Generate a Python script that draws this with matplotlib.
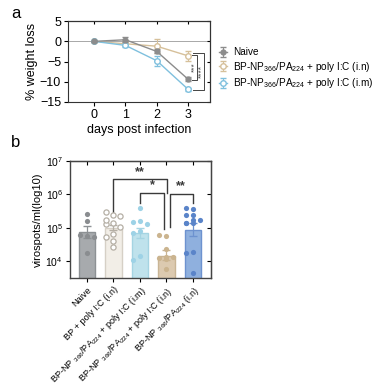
import numpy as np
import matplotlib.pyplot as plt

plt.rcParams['font.family'] = ['Liberation Sans', 'DejaVu Sans']
plt.rcParams['mathtext.fontset'] = 'custom'
plt.rcParams['mathtext.rm'] = 'Liberation Sans'
plt.rcParams['mathtext.it'] = 'Liberation Sans'

# ---- panel a: weight loss ----
days = [0, 1, 2, 3]
naive_wl = [0.0, 0.4, -2.5, -9.4]
naive_err = [0.2, 0.6, 0.5, 0.5]
in_wl = [0.0, -0.6, -1.2, -3.6]
in_err = [0.2, 0.4, 1.8, 1.2]
im_wl = [0.0, -1.0, -4.8, -11.9]
im_err = [0.2, 0.3, 1.2, 0.3]

# ---- panel b: virospots (log10 values) ----
groups = ['Naive', 'BP + poly I:C (i.n)',
          'BP-NP $_{366}$/PA$_{224}$ + poly I:C (i.m)',
          'BP-NP $_{366}$/PA$_{224}$ + poly I:C (i.n)',
          'BP-NP $_{366}$/PA$_{224}$ (i.n)']
naive_pts = [5.42, 5.22, 4.76, 4.80, 4.72, 4.26]
bp_pts = [5.38, 5.47, 5.36, 5.16, 5.12, 5.25, 5.03, 4.83, 4.73, 4.61, 4.42]
im_pts = [5.61, 5.20, 5.18, 5.12, 4.90, 4.86, 4.16, 4.05]
in_pts = [4.75, 4.78, 4.36, 4.12, 4.10, 4.12, 4.08, 3.77]
np_pts = [5.58, 5.61, 5.38, 5.38, 5.25, 5.25, 5.15, 5.15, 5.15, 4.29, 4.26, 3.65]
bar_mean = [4.87, 5.01, 4.86, 4.16, 4.95]
bar_hi = [5.05, 5.08, 4.99, 4.34, 5.14]
bar_lo = [4.70, 4.94, 4.70, 4.05, 4.75]

bar_face = ['#a7aaad', '#f2eee7', '#bfe2ec', '#dccab0', '#8fb0de']
bar_edge = ['#8d9194', '#d6d0c6', '#a5d4e2', '#c9b595', '#6d92cf']
pt_color = ['#8a8d90', '#b5afa5', '#9dd2e6', '#cbb48f', '#5a84c9']
pt_open = [False, True, False, False, False]


def swarm(vals, step=0.26):
    # small beeswarm, max 3 columns; pick the least crowded column
    placed = []
    offs = []
    for v in vals:
        best, best_cost = 0, None
        for k in [0, -1, 1]:
            dx = k * step
            cost = 0
            for (px, py) in placed:
                d2 = ((dx - px) * 26.5) ** 2 + ((v - py) * 33.7) ** 2
                if d2 < 4.5 ** 2:
                    cost += 1
            if best_cost is None or cost < best_cost:
                best, best_cost = dx, cost
            if cost == 0:
                break
        placed.append((best, v))
        offs.append(best)
    return offs


fig = plt.figure(figsize=(3.8, 3.92), dpi=100)

# ================= panel a =================
ax = fig.add_axes([0.179, 0.740, 0.374, 0.206])
ax.axhline(0, color='#9a9a9a', lw=0.6, zorder=0)
ax.errorbar(days, naive_wl, yerr=naive_err, color='#8c8c8c', marker='o', ms=3.5,
            lw=1, capsize=2, elinewidth=0.8, label='Naive', zorder=3)
ax.errorbar(days, in_wl, yerr=in_err, color='#d6c09a', marker='o', ms=4, mfc='white',
            mew=1, lw=1, capsize=2, elinewidth=0.8,
            label='BP-NP$_{366}$/PA$_{224}$ + poly I:C (i.n)', zorder=2)
ax.errorbar(days, im_wl, yerr=im_err, color='#7fc0de', marker='o', ms=4, mfc='white',
            mew=1, lw=1, capsize=2, elinewidth=0.8,
            label='BP-NP$_{366}$/PA$_{224}$ + poly I:C (i.m)', zorder=2)

# significance brackets at day 3
sig_c = '#444444'
ax.plot([3.12, 3.28, 3.28, 3.12], [-3.3, -3.3, -9.5, -9.5], color=sig_c, lw=0.7)
ax.text(3.2, -6.4, '***', rotation=90, ha='center', va='center', fontsize=6, color=sig_c)
ax.plot([3.15, 3.50, 3.50, 3.15], [-2.9, -2.9, -12.0, -12.0], color=sig_c, lw=0.7)
ax.text(3.42, -7.4, '****', rotation=90, ha='center', va='center', fontsize=6, color=sig_c)

ax.set_xlim(-0.83, 3.7)
ax.set_ylim(-15, 5)
ax.set_xticks(days)
ax.set_yticks([5, 0, -5, -10, -15])
ax.tick_params(direction='out', length=3, width=0.8, labelsize=9, pad=2)
for s in ax.spines.values():
    s.set_linewidth(0.8)
    s.set_color('#333333')
top = ax.secondary_xaxis('top')
top.set_xticks(days)
top.tick_params(direction='in', length=2.5, width=0.8, labeltop=False)
rgt = ax.secondary_yaxis('right')
rgt.set_yticks([5, 0, -5, -10, -15])
rgt.tick_params(direction='in', length=2.5, width=0.8, labelright=False)
ax.set_xlabel('days post infection', fontsize=9, labelpad=2)
ax.set_ylabel('% weight loss', fontsize=9, labelpad=1)
leg = ax.legend(loc='center left', bbox_to_anchor=(1.02, 0.41), frameon=False, fontsize=7.2,
                handlelength=0.8, handletextpad=0.6, labelspacing=0.25, borderpad=0.1)

# ================= panel b =================
bx = fig.add_axes([0.184, 0.291, 0.371, 0.298])
bx.set_yscale('log')
xs = np.arange(len(groups))
all_pts = [naive_pts, bp_pts, im_pts, in_pts, np_pts]
base = 10 ** 3.4
for i in range(len(groups)):
    m = 10 ** bar_mean[i]
    bx.bar(xs[i], m - base, bottom=base, width=0.63, color=bar_face[i],
           edgecolor=bar_edge[i], lw=1, zorder=1)
    bx.errorbar(xs[i], m, yerr=[[m - 10 ** bar_lo[i]], [10 ** bar_hi[i] - m]],
                color=bar_edge[i] if i != 1 else '#b5afa5', capsize=3, lw=0.9,
                zorder=2)
    offs = swarm(all_pts[i])
    px = xs[i] + np.array(offs)
    py = 10 ** np.array(all_pts[i])
    if pt_open[i]:
        bx.scatter(px, py, s=14, facecolor='white', edgecolor=pt_color[i], lw=0.9, zorder=3)
    else:
        bx.scatter(px, py, s=14, color=pt_color[i], lw=0, zorder=3)

# significance brackets
sc = '#3a3a3a'
bx.plot([1, 1, 3.02, 3.02], [10 ** 5.47, 10 ** 6.45, 10 ** 6.45, 10 ** 6.05], color=sc, lw=1)
bx.text(2.0, 10 ** 6.5, '**', ha='center', va='bottom', fontsize=9, fontweight='bold', color=sc)
bx.plot([2, 2, 2.92, 2.92], [10 ** 5.73, 10 ** 6.05, 10 ** 6.05, 10 ** 4.96], color=sc, lw=1)
bx.text(2.46, 10 ** 6.1, '*', ha='center', va='bottom', fontsize=9, fontweight='bold', color=sc)
bx.plot([3.12, 3.12, 4.0, 4.0], [10 ** 5.02, 10 ** 6.02, 10 ** 6.02, 10 ** 5.73], color=sc, lw=1)
bx.text(3.56, 10 ** 6.07, '**', ha='center', va='bottom', fontsize=9, fontweight='bold', color=sc)

bx.set_xlim(-0.64, 4.68)
bx.set_ylim(10 ** 3.5, 10 ** 7)
bx.set_yticks([1e4, 1e5, 1e6, 1e7])
bx.set_yticklabels(['10$^4$', '10$^5$', '10$^6$', '10$^7$'])
bx.yaxis.set_minor_locator(plt.NullLocator())
bx.set_xticks(xs)
bx.set_xticklabels(groups, rotation=45, ha='right', rotation_mode='anchor')
bx.tick_params(direction='out', length=3, width=0.8, labelsize=7.5, pad=2)
bx.tick_params(axis='x', labelsize=6.6, pad=2)
for s in bx.spines.values():
    s.set_linewidth(1)
    s.set_color('#444444')
btop = bx.secondary_xaxis('top')
btop.set_xticks(xs)
btop.tick_params(direction='in', length=3, width=0.8, labeltop=False)
brgt = bx.secondary_yaxis('right')
brgt.set_yscale('log')
brgt.set_yticks([1e4, 1e5, 1e6, 1e7])
brgt.yaxis.set_minor_locator(plt.NullLocator())
brgt.tick_params(direction='in', length=3, width=0.8, labelright=False)
bx.set_ylabel('virospots/ml(log10)', fontsize=8, labelpad=2)

fig.text(0.03, 0.985, 'a', fontsize=12, va='top')
fig.text(0.03, 0.655, 'b', fontsize=12, va='top')

fig.savefig('out.png', dpi=100)
